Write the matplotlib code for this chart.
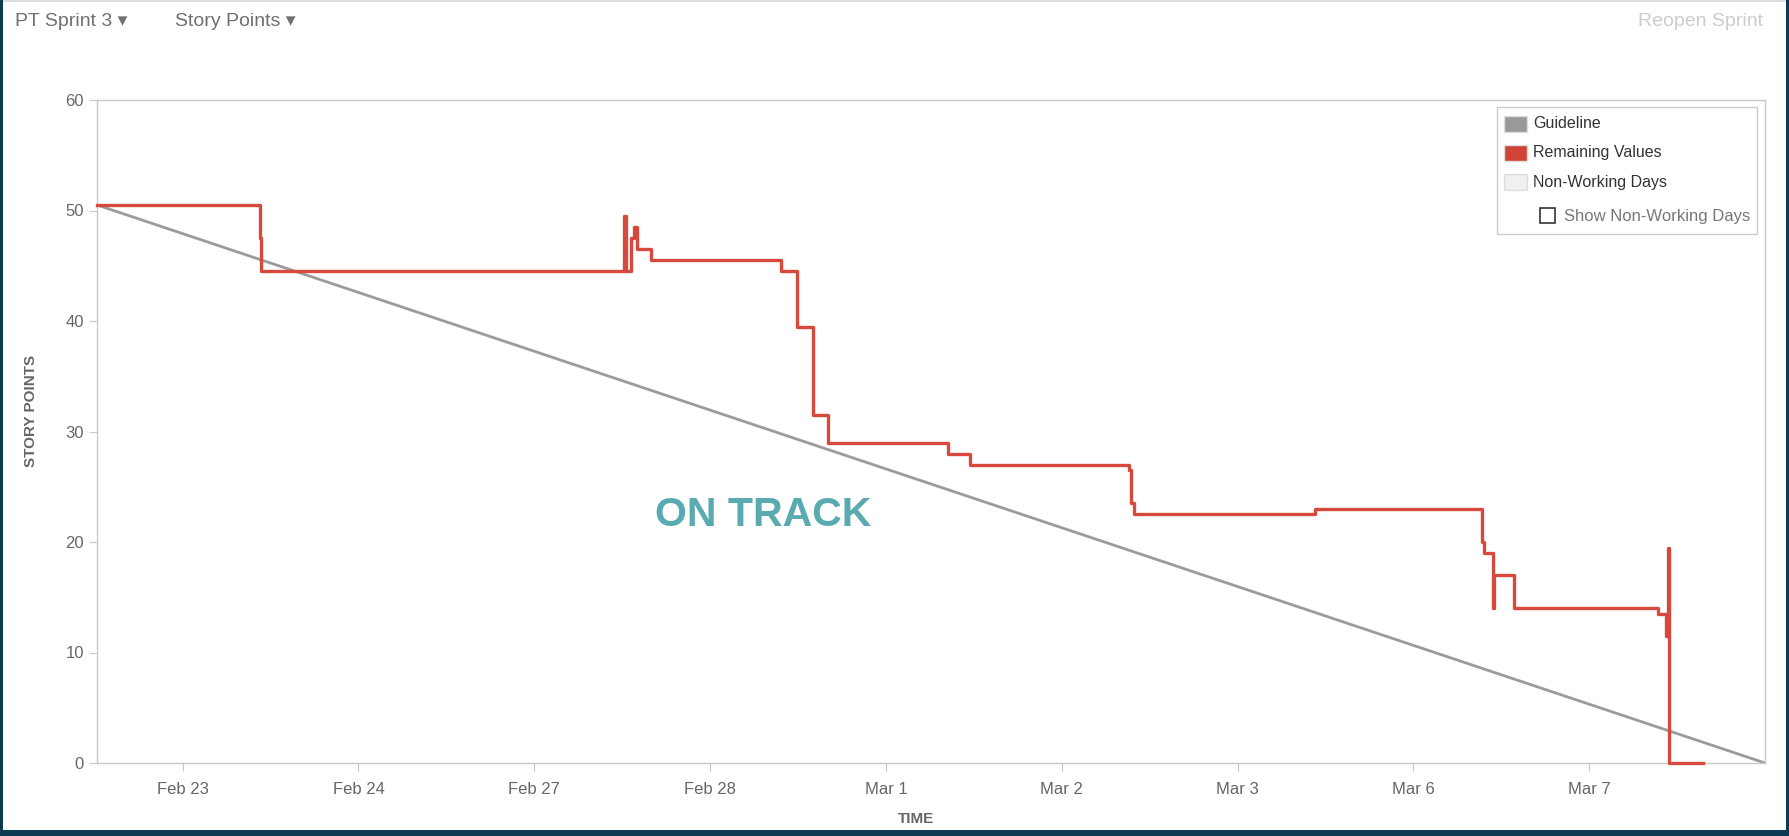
import matplotlib
matplotlib.use("Agg")
import matplotlib.pyplot as plt
from matplotlib.patches import Rectangle

# working-day axis: tick i sits on day_labels[i]
day_labels = ["Feb 23", "Feb 24", "Feb 27", "Feb 28", "Mar 1", "Mar 2", "Mar 3", "Mar 6", "Mar 7"]
sprint_start = -0.487
sprint_end = 9.0
guide_start = 50.5

# remaining story points (step after each change)
t_rem = [-0.487, 0.442, 0.448, 2.513, 2.519, 2.552, 2.565, 2.584, 2.662, 3.403, 3.494, 3.584,
         3.669, 4.351, 4.481, 5.383, 5.396, 5.409, 6.442, 7.390, 7.403, 7.455, 7.461, 7.571,
         8.390, 8.435, 8.448, 8.455, 8.649]
v_rem = [50.5, 47.5, 44.5, 49.5, 44.5, 47.5, 48.5, 46.5, 45.5, 44.5, 39.5, 31.5,
         29, 28, 27, 26.5, 23.5, 22.5, 23, 20, 19, 14, 17, 14,
         13.5, 11.5, 19.5, 0, 0]

W, H = 1789, 836
fig = plt.figure(figsize=(W / 100, H / 100), dpi=100)
fnt = ['Liberation Sans Narrow', 'Liberation Sans', 'DejaVu Sans']
sans = ['Liberation Sans', 'DejaVu Sans']

def fx(px):
    return px / W

def fy(py):
    return 1 - py / H

ax = fig.add_axes([fx(97), fy(763), (1765 - 97) / W, (763 - 100) / H])

ax.plot([sprint_start, sprint_end], [guide_start, 0], color='#9c9a9e', lw=2.0, zorder=2)
ax.plot(t_rem, v_rem, drawstyle='steps-post', color='#d6493c', lw=2.4, zorder=3,
        clip_on=False)

ax.set_xlim(sprint_start, sprint_end)
ax.set_ylim(0, 60)
ax.set_yticks(range(0, 61, 10))
ax.set_xticks(range(len(day_labels)))
ax.set_xticklabels(day_labels)
for s in ax.spines.values():
    s.set_color('#c8c8c8')
    s.set_linewidth(1)
ax.tick_params(colors='#c8c8c8', labelcolor='#666666', labelsize=12, length=6)
for lab in ax.get_xticklabels() + ax.get_yticklabels():
    lab.set_family(fnt)
ax.tick_params(axis='x', pad=8)

fig.text(fx(31), fy(411), "STORY POINTS", rotation=90, ha='center', va='center',
         fontsize=11, fontweight='bold', color='#666666', family=fnt)
fig.text(fx(916), fy(819), "TIME", ha='center', va='center',
         fontsize=11, fontweight='bold', color='#666666', family=fnt)

ax.text(3.30, 22.4, "ON TRACK", ha='center', va='center', fontsize=29.5,
        fontweight='bold', color='#5aabb0', family=sans)

# header
fig.text(fx(15), fy(22), "PT Sprint 3 \u25BE", ha='left', va='center', fontsize=14,
         color='#707070', family=sans)
fig.text(fx(175), fy(22), "Story Points \u25BE", ha='left', va='center', fontsize=14,
         color='#707070', family=sans)
fig.text(fx(1763), fy(22), "Reopen Sprint", ha='right', va='center', fontsize=14,
         color='#cccccc', family=sans)

# legend box
def frect(x0, y0, x1, y1, **kw):
    fig.patches.append(Rectangle((fx(x0), fy(y1)), (x1 - x0) / W, (y1 - y0) / H,
                                 transform=fig.transFigure, **kw))

frect(1497, 107, 1757, 234, facecolor='white', edgecolor='#cccccc', lw=1, zorder=5)
entries = [("Guideline", '#999999', 124), ("Remaining Values", '#d04437', 153),
           ("Non-Working Days", '#f0f0f0', 182)]
for name, col, yc in entries:
    frect(1504, yc - 8, 1527, yc + 8, facecolor=col, edgecolor='#dddddd', lw=1, zorder=6)
    fig.text(fx(1533), fy(yc), name, ha='left', va='center', fontsize=11.5,
             color='#333333', family=sans, zorder=7)
frect(1540, 208, 1555, 223, facecolor='white', edgecolor='#333333', lw=1.2, zorder=6)
fig.text(fx(1564), fy(216), "Show Non-Working Days", ha='left', va='center', fontsize=12,
         color='#777777', family=sans, zorder=7)

# page frame
frect(0, 0, W, 2, facecolor='#dddddd', edgecolor='none', zorder=1)
frect(0, 0, 3, H, facecolor='#0d3a52', edgecolor='none', zorder=1)
frect(W - 3, 0, W, H, facecolor='#0d3a52', edgecolor='none', zorder=1)
frect(0, H - 6, W, H, facecolor='#0d3a52', edgecolor='none', zorder=1)

fig.savefig("out.png", dpi=100)
